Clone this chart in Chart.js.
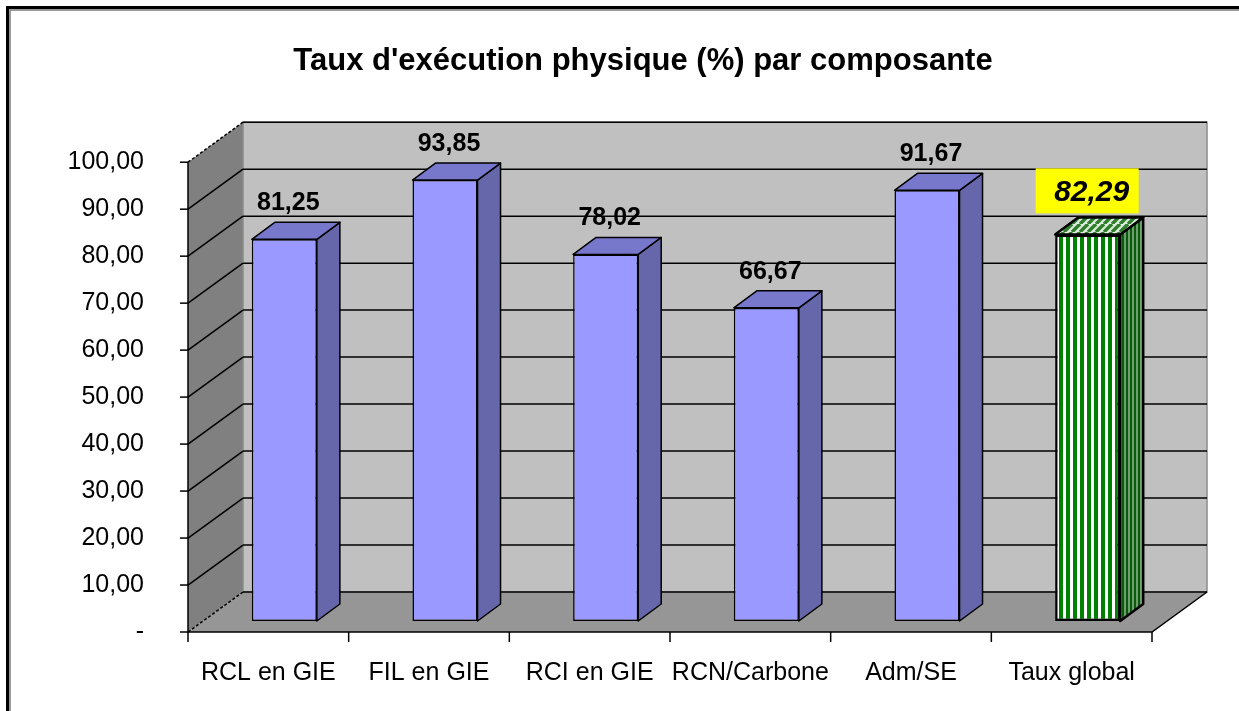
<!DOCTYPE html>
<html>
<head>
<meta charset="utf-8">
<script src="https://cdn.jsdelivr.net/npm/chart.js@4/dist/chart.umd.min.js"></script>
<style>
  html, body { margin: 0; padding: 0; background: #fff; }
  #wrap { position: relative; width: 1239px; height: 711px; overflow: hidden; }
  #frame { position: absolute; left: 6px; top: 6px; right: -10px; bottom: -10px;
           border-top: 3px solid #000; border-left: 3px solid #000; box-shadow: inset 2px 2px 0 #999; }
  canvas { position: absolute; left: 0; top: 0; }
</style>
</head>
<body>
<div id="wrap">
  <div id="frame"></div>
  <canvas id="c" width="1239" height="711"></canvas>
</div>
<script>
// données
const categories = ['RCL en GIE', 'FIL en GIE', 'RCI en GIE', 'RCN/Carbone', 'Adm/SE', 'Taux global']
const values = [81.25, 93.85, 78.02, 66.67, 91.67, 82.29]
const yTickLabels = ['-', '10,00', '20,00', '30,00', '40,00', '50,00', '60,00', '70,00', '80,00', '90,00', '100,00']

const FONT = '"Liberation Sans", Arial, sans-serif'

// profondeur de la boite 3D (mur du fond) et des barres
const WALL_DX = 55, WALL_DY = -40
const BAR_DX = 16, BAR_DY = -11
const SIDE_DX = 23, SIDE_DY = -17

// motifs pour la barre "Taux global"
function makePattern(w, h, paint) {
  const cv = document.createElement('canvas')
  cv.width = w
  cv.height = h
  const g = cv.getContext('2d')
  paint(g)
  return document.getElementById('c').getContext('2d').createPattern(cv, 'repeat')
}
const greenFront = makePattern(7, 7, g => {
  g.fillStyle = '#fff'; g.fillRect(0, 0, 7, 7)
  g.fillStyle = '#008000'; g.fillRect(0, 0, 4, 7)
})
const greenSide = makePattern(4, 4, g => {
  g.fillStyle = '#0b5a0b'; g.fillRect(0, 0, 4, 4)
  g.fillStyle = '#6f9f6f'; g.fillRect(0, 0, 2, 4)
})
const greenTop = makePattern(8, 8, g => {
  g.fillStyle = '#dfeedf'; g.fillRect(0, 0, 8, 8)
  g.strokeStyle = '#2f7f2f'; g.lineWidth = 3.5
  for (let k = -8; k <= 16; k += 8) {
    g.beginPath(); g.moveTo(k, 8); g.lineTo(k + 8, 0); g.stroke()
  }
})

const frontColors = values.map((v, i) => i === values.length - 1 ? greenFront : '#9999FF')
const sideColors = values.map((v, i) => i === values.length - 1 ? greenSide : '#6666AA')
const topColors = values.map((v, i) => i === values.length - 1 ? greenTop : '#7777CC')
const borderWidths = values.map((v, i) => i === values.length - 1 ? 2.5 : 1.5)

function poly(ctx, pts, fill, stroke, lw) {
  ctx.beginPath()
  pts.forEach((p, i) => i ? ctx.lineTo(p[0], p[1]) : ctx.moveTo(p[0], p[1]))
  ctx.closePath()
  if (fill) { ctx.fillStyle = fill; ctx.fill() }
  if (stroke) { ctx.strokeStyle = stroke; ctx.lineWidth = lw || 1; ctx.stroke() }
}

// plugin : murs, sol, quadrillage, faces 3D et étiquettes
const box3d = {
  id: 'box3d',
  beforeDatasetsDraw(chart) {
    const { ctx, chartArea: a, scales: { x, y } } = chart
    const L = a.left, R = a.right, T = a.top, B = a.bottom
    ctx.save()
    // mur gauche
    poly(ctx, [[L, T], [L + WALL_DX, T + WALL_DY], [L + WALL_DX, B + WALL_DY], [L, B]], '#808080')
    // mur du fond
    poly(ctx, [[L + WALL_DX, T + WALL_DY], [R + WALL_DX, T + WALL_DY], [R + WALL_DX, B + WALL_DY], [L + WALL_DX, B + WALL_DY]], '#C0C0C0', '#8a8a8a', 1.5)
    // sol
    poly(ctx, [[L, B], [L + WALL_DX, B + WALL_DY], [R + WALL_DX, B + WALL_DY], [R, B]], '#969696')

    // quadrillage
    ctx.strokeStyle = '#000'
    ctx.lineWidth = 1.5
    for (let i = 0; i < yTickLabels.length; i++) {
      const v = i * 10
      const py = y.getPixelForValue(v)
      ctx.beginPath()
      ctx.moveTo(L + WALL_DX, py + WALL_DY)
      ctx.lineTo(R + WALL_DX, py + WALL_DY)
      ctx.stroke()
      ctx.setLineDash(i === 0 || i === yTickLabels.length - 1 ? [3, 2] : [])
      ctx.beginPath()
      ctx.moveTo(L, py)
      ctx.lineTo(L + WALL_DX, py + WALL_DY)
      ctx.stroke()
      ctx.setLineDash([])
      // graduation
      ctx.beginPath()
      ctx.moveTo(L - 8, py)
      ctx.lineTo(L, py)
      ctx.stroke()
    }
    // axes avant
    ctx.beginPath()
    ctx.moveTo(L, T); ctx.lineTo(L, B); ctx.lineTo(R, B); ctx.lineTo(R + WALL_DX, B + WALL_DY)
    ctx.stroke()
    for (let i = 0; i <= categories.length; i++) {
      const px = x.getPixelForValue(i - 0.5)
      ctx.beginPath()
      ctx.moveTo(px, B); ctx.lineTo(px, B + 10)
      ctx.stroke()
    }
    ctx.restore()

    // les faces avant des barres sont décalées vers le fond
    ctx.save()
    ctx.translate(BAR_DX, BAR_DY)
  },
  afterDatasetsDraw(chart) {
    const { ctx } = chart
    ctx.restore()
    const meta = chart.getDatasetMeta(0)
    ctx.save()
    meta.data.forEach((el, i) => {
      const x0 = el.x - el.width / 2 + BAR_DX
      const x1 = el.x + el.width / 2 + BAR_DX
      const yt = el.y + BAR_DY
      const yb = el.base + BAR_DY
      const lw = borderWidths[i]
      ctx.lineJoin = 'round'
      poly(ctx, [[x1, yt], [x1 + SIDE_DX, yt + SIDE_DY], [x1 + SIDE_DX, yb + SIDE_DY], [x1, yb]], sideColors[i], '#000', lw)
      poly(ctx, [[x0, yt], [x0 + SIDE_DX, yt + SIDE_DY], [x1 + SIDE_DX, yt + SIDE_DY], [x1, yt]], topColors[i], '#000', lw)

      const label = values[i].toFixed(2).replace('.', ',')
      const cx = (x0 + x1) / 2
      const topBack = yt + SIDE_DY
      ctx.textAlign = 'center'
      ctx.textBaseline = 'alphabetic'
      ctx.fillStyle = '#000'
      if (i === values.length - 1) {
        ctx.fillStyle = '#FFFF00'
        ctx.fillRect(cx - 52, topBack - 49, 103, 45)
        ctx.fillStyle = '#000'
        ctx.font = 'italic bold 30px ' + FONT
        ctx.fillText(label, cx + 4, topBack - 16)
      } else {
        ctx.font = 'bold 25px ' + FONT
        ctx.fillText(label, cx + 4, topBack - 12)
      }
    })
    ctx.restore()
  }
}

new Chart(document.getElementById('c'), {
  type: 'bar',
  data: {
    labels: categories,
    datasets: [{
      data: values,
      backgroundColor: frontColors,
      borderColor: '#000',
      borderWidth: borderWidths,
      borderSkipped: false,
      barPercentage: 0.405,
      categoryPercentage: 1
    }]
  },
  options: {
    responsive: false,
    animation: false,
    events: [],
    // marge gauche pour centrer le titre comme sur l'original
    layout: { padding: { left: 47, right: 0, top: 0, bottom: 0 } },
    scales: {
      x: {
        grid: { display: false, drawTicks: false },
        border: { display: false },
        ticks: { color: '#000', font: { family: FONT, size: 25 }, padding: 26, maxRotation: 0 },
        afterFit: s => { s.height = 79 }
      },
      y: {
        min: 0,
        max: 100,
        grid: { display: false, drawTicks: false },
        border: { display: false },
        ticks: {
          stepSize: 10,
          color: '#000',
          font: { family: FONT, size: 25 },
          padding: 44,
          callback: (v, i) => yTickLabels[i]
        },
        afterFit: s => { s.width = 141 }
      },
      // axe vide à droite : réserve la place de la profondeur 3D
      yRight: {
        position: 'right',
        grid: { display: false, drawTicks: false },
        border: { display: false },
        ticks: { display: false },
        afterFit: s => { s.width = 87 }
      }
    },
    plugins: {
      legend: { display: false },
      tooltip: { enabled: false },
      title: {
        display: true,
        text: "Taux d'exécution physique (%) par composante",
        color: '#000',
        font: { family: FONT, size: 31, weight: 'bold' },
        padding: { top: 43, bottom: 82 }
      }
    }
  },
  plugins: [box3d]
})
</script>
</body>
</html>
